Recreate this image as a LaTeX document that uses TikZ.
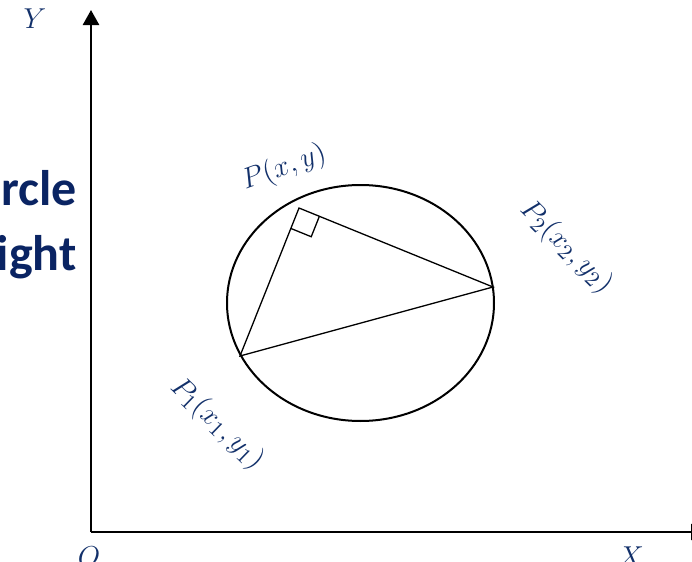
\documentclass[tikz,border=0pt]{standalone}
\usepackage{fontspec}
\newfontfamily\titlefont{Carlito}
\usetikzlibrary{arrows.meta, calc}
\definecolor{cnavy}{HTML}{0A2463}
\definecolor{clabel}{HTML}{12306A}
\tikzset{
  axis/.style={line width=1.25pt, -{Triangle[width=8pt, length=7.5pt]}},
  chord/.style={line width=0.65pt},
  title/.style={font=\titlefont\fontsize{25}{28}\selectfont\bfseries, text=cnavy, inner sep=0pt},
  lbl/.style={font=\fontsize{15}{17}\selectfont, text=clabel, inner sep=0pt},
}
\begin{document}
\begin{tikzpicture}[x=0.5pt, y=-0.5pt]
  \clip (0,0) rectangle (692,562);
  % axes
  \coordinate (O) at (91,532);
  \coordinate (Ytip) at (91,10);
  \coordinate (Xtip) at (706,532);
  \draw[axis] (O) -- (Ytip);
  \draw[axis] (O) -- (Xtip);
  \node[lbl] (ylab) at (35,19) {$Y$};
  \node[lbl, anchor=north] (olab) at (89,546) {$O$};
  \node[lbl, anchor=north] (xlab) at (631,546) {$X$};
  % cut-off title on the left
  \node[title, anchor=base east] (t1) at (77,205) {rcle};
  \node[title, anchor=base east] (t2) at (77,270) {ight};
  % circle and the right-angled triangle in it
  \draw[line width=1pt] (360.5,303) ellipse [x radius=133.5, y radius=118];
  \coordinate (P1) at (240,356);
  \coordinate (P2) at (493,287);
  \coordinate (P) at (299,208);
  \draw[chord] (P1) -- (P) -- (P2) -- cycle;
  \coordinate (s1) at ($(P)!11pt!(P1)$);
  \coordinate (s2) at ($(P)!11pt!(P2)$);
  \draw[chord] (s1) -- ($(s1)+(s2)-(P)$) -- (s2);
  \node[lbl, rotate=20] (plab) at (284,168) {$P(x,y)$};
  \node[lbl, rotate=-45] (p2lab) at (566,247) {$P_2(x_2,y_2)$};
  \node[lbl, rotate=-44] (p1lab) at (217,424) {$P_1(x_1,y_1)$};
\end{tikzpicture}
\end{document}
